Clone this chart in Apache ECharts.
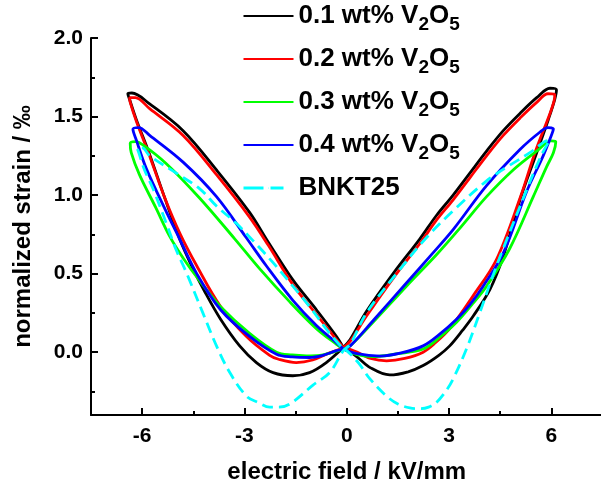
<!DOCTYPE html>
<html>
<head>
<meta charset="utf-8">
<script src="https://cdn.jsdelivr.net/npm/echarts@6/dist/echarts.min.js"></script>
<style>html,body{margin:0;padding:0;background:#fff}#c{width:601px;height:485px}</style>
</head>
<body>
<div id="c"></div>
<script>
// ---- data (electric field kV/mm, normalized strain ‰), each loop in drawing order ----
const seriesNames = ['0.1 wt% V2O5', '0.2 wt% V2O5', '0.3 wt% V2O5', '0.4 wt% V2O5', 'BNKT25'];
const seriesColors = ['#000000', '#ff0000', '#00ff00', '#0000ff', '#00ffff'];

const v01 = [[-0.1,0.03],[0.3,-0.03],[0.7,-0.1],[1.26,-0.145],[1.8,-0.125],[2.24,-0.085],[2.7,-0.02],[3.02,0.04],[3.4,0.14],[3.71,0.23],[4.2,0.4],[4.59,0.61],[5.08,0.97],[5.57,1.27],[5.91,1.48],[6.1,1.61],[6.15,1.67],
  [5.96,1.68],[5.57,1.62],[5.08,1.52],[4.59,1.41],[4.1,1.28],[3.61,1.14],[3.12,1.0],[2.63,0.87],[2.14,0.72],[1.36,0.5],[0.58,0.26],[0.1,0.08],[-0.1,0.03],
  [-0.6,-0.066],[-1.09,-0.13],[-1.58,-0.15],[-2.16,-0.13],[-2.65,-0.066],[-3.14,0.04],[-3.7,0.21],[-4.15,0.38],[-4.55,0.55],[-4.9,0.72],[-5.35,0.99],[-5.8,1.27],[-6.17,1.48],[-6.37,1.61],[-6.42,1.645],
  [-6.3,1.65],[-5.78,1.58],[-4.8,1.41],[-3.82,1.16],[-2.85,0.89],[-2.3,0.7],[-1.58,0.46],[-0.89,0.27],[-0.3,0.1],[-0.1,0.03]];

const v02 = [[-0.1,0.03],[0.3,0.0],[0.7,-0.04],[1.17,-0.055],[1.7,-0.04],[2.24,0.0],[2.6,0.06],[3.02,0.15],[3.71,0.36],[4.39,0.59],[5.08,0.98],[5.52,1.27],[5.96,1.52],[6.08,1.6],[6.1,1.64],
  [5.9,1.645],[5.57,1.59],[5.08,1.49],[4.59,1.38],[4.1,1.25],[3.61,1.11],[3.12,0.97],[2.63,0.84],[2.14,0.69],[1.36,0.47],[0.58,0.23],[0.1,0.07],[-0.1,0.03],
  [-0.6,-0.013],[-1.0,-0.05],[-1.48,-0.066],[-2.0,-0.045],[-2.26,-0.02],[-2.94,0.1],[-3.7,0.29],[-4.4,0.55],[-4.88,0.75],[-5.35,0.99],[-5.8,1.26],[-6.17,1.47],[-6.35,1.59],[-6.37,1.62],
  [-6.2,1.62],[-5.78,1.55],[-4.8,1.38],[-3.82,1.13],[-2.85,0.86],[-2.3,0.68],[-1.58,0.43],[-0.89,0.24],[-0.3,0.08],[-0.1,0.03]];

const v03 = [[-0.1,0.02],[0.3,-0.015],[0.77,-0.028],[1.5,-0.01],[2.24,0.02],[2.7,0.09],[3.22,0.19],[3.7,0.31],[4.1,0.42],[4.78,0.66],[5.47,0.99],[5.86,1.18],[6.06,1.27],[6.13,1.34],
  [6.0,1.345],[5.57,1.28],[4.88,1.16],[4.1,0.99],[3.32,0.79],[2.63,0.62],[1.75,0.42],[0.77,0.19],[0.1,0.04],[-0.1,0.02],
  [-0.4,0.0],[-0.8,-0.02],[-1.18,-0.023],[-1.6,-0.018],[-2.06,0.0],[-2.85,0.12],[-3.7,0.29],[-4.3,0.45],[-4.8,0.6],[-5.2,0.74],[-5.6,0.92],[-6.08,1.13],[-6.32,1.27],[-6.35,1.33],
  [-6.2,1.34],[-5.98,1.32],[-5.29,1.2],[-4.31,0.98],[-3.28,0.72],[-2.55,0.53],[-1.67,0.32],[-0.89,0.15],[-0.3,0.05],[-0.1,0.02]];

const v04 = [[-0.1,0.02],[0.3,-0.01],[0.97,-0.025],[1.6,-0.005],[2.24,0.04],[2.7,0.11],[3.22,0.21],[3.6,0.3],[4.0,0.42],[4.59,0.63],[5.27,1.02],[5.76,1.25],[6.0,1.38],[6.06,1.42],
  [5.9,1.43],[5.66,1.4],[5.08,1.29],[4.1,1.06],[3.12,0.78],[2.44,0.61],[1.75,0.44],[0.77,0.2],[0.1,0.04],[-0.1,0.02],
  [-0.3,0.01],[-0.7,-0.02],[-1.09,-0.034],[-1.6,-0.03],[-2.06,-0.013],[-2.85,0.1],[-3.7,0.27],[-4.4,0.5],[-4.9,0.72],[-5.35,0.92],[-5.88,1.17],[-6.17,1.35],[-6.27,1.42],
  [-6.1,1.43],[-5.78,1.38],[-4.8,1.21],[-3.82,0.99],[-2.95,0.73],[-2.36,0.55],[-1.58,0.33],[-0.89,0.17],[-0.3,0.06],[-0.1,0.02]];

const bnkt25 = [[-0.1,0.02],[0.0,0.01],[0.35,-0.07],[0.68,-0.17],[1.17,-0.28],[1.5,-0.33],[1.85,-0.355],[2.14,-0.36],[2.4,-0.35],[2.63,-0.32],[2.9,-0.25],[3.12,-0.17],[3.51,0.02],[3.9,0.25],[4.29,0.49],[4.59,0.66],[5.27,1.03],[5.7,1.25],[5.95,1.35],
  [5.8,1.34],[5.37,1.27],[4.78,1.19],[4.1,1.09],[3.12,0.9],[2.34,0.73],[1.46,0.5],[0.58,0.25],[0.1,0.05],[-0.1,0.01],
  [-0.5,-0.13],[-0.99,-0.21],[-1.67,-0.33],[-2.0,-0.35],[-2.26,-0.35],[-2.6,-0.32],[-2.94,-0.28],[-3.43,-0.13],[-3.82,0.04],[-4.22,0.25],[-4.71,0.51],[-5.0,0.65],[-5.29,0.82],[-5.68,1.04],[-5.93,1.16],[-6.1,1.27],[-6.15,1.3],
  [-6.0,1.3],[-5.78,1.25],[-5.0,1.14],[-4.31,1.04],[-3.82,0.93],[-3.24,0.82],[-2.75,0.71],[-2.16,0.57],[-1.58,0.42],[-1.09,0.29],[-0.5,0.12],[-0.1,0.02]];

const seriesData = [v01, v02, v03, v04, bnkt25];

// axis ticks / labels
const xMajorTicks = [-6, -3, 0, 3, 6];
const xMinorTicks = [-4.5, -1.5, 1.5, 4.5];
const yMajorTicks = [0, 0.5, 1.0, 1.5, 2.0];
const yMinorTicks = [-0.25, 0.25, 0.75, 1.25, 1.75];
const xTitle = 'electric field / kV/mm';
const yTitle = 'normalized strain / ‰';

// ---- chart ----
const FONT = '"Liberation Sans", Arial, Helvetica, sans-serif';
const chart = echarts.init(document.getElementById('c'), null, {renderer: 'canvas'});
const axisLineStyle = {color: '#000', width: 2};

function subFormatter(name) {
  if (name.endsWith('V2O5')) {
    return '{m|' + name.slice(0, -4) + 'V}{s|2}{m|O}{s|5}';
  }
  return '{m|' + name + '}';
}

const option = {
  animation: false,
  backgroundColor: '#fff',
  grid: {left: 91, top: 38, width: 511.5, height: 377, containLabel: false, outerBoundsMode: 'none'},
  legend: {
    orient: 'vertical',
    left: 242,
    top: 3,
    padding: 0,
    itemWidth: 50,
    itemHeight: 1,
    itemGap: 12,
    selectedMode: false,
    formatter: subFormatter,
    textStyle: {
      color: '#000',
      rich: {
        m: {fontSize: 26, fontWeight: 'bold', fontFamily: FONT, color: '#000', lineHeight: 36},
        s: {fontSize: 19, fontWeight: 'bold', fontFamily: FONT, color: '#000', lineHeight: 16, verticalAlign: 'bottom'}
      }
    },
    data: seriesNames.map((n, i) => ({
      name: n,
      lineStyle: i === 4 ? {width: 3, type: [20, 7, 13, 100]} : {width: 2}
    }))
  },
  xAxis: [
    {
      type: 'value', min: -7.5, max: 7.5,
      name: xTitle, nameLocation: 'middle', nameGap: 45,
      nameTextStyle: {fontSize: 24, fontWeight: 'bold', fontFamily: FONT, color: '#000'},
      axisLine: {show: true, onZero: false, lineStyle: axisLineStyle},
      axisTick: {show: true, inside: true, length: 7, customValues: xMajorTicks, lineStyle: axisLineStyle},
      axisLabel: {show: true, customValues: xMajorTicks, margin: 11, fontSize: 21, fontWeight: 'bold', fontFamily: FONT, color: '#000', formatter: v => String(v)},
      splitLine: {show: false}
    },
    {
      type: 'value', min: -7.5, max: 7.5, position: 'bottom',
      axisLine: {show: false, onZero: false},
      axisTick: {show: true, inside: true, length: 4, customValues: xMinorTicks, lineStyle: axisLineStyle},
      axisLabel: {show: false},
      splitLine: {show: false}
    }
  ],
  yAxis: [
    {
      type: 'value', min: -0.4, max: 2.0,
      name: yTitle, nameLocation: 'middle', nameGap: 56,
      nameTextStyle: {fontSize: 24, fontWeight: 'bold', fontFamily: FONT, color: '#000'},
      axisLine: {show: true, onZero: false, lineStyle: axisLineStyle},
      axisTick: {show: true, inside: true, length: 7, customValues: yMajorTicks, lineStyle: axisLineStyle},
      axisLabel: {show: true, customValues: yMajorTicks, margin: 8, fontSize: 21, fontWeight: 'bold', fontFamily: FONT, color: '#000', formatter: v => v.toFixed(1)},
      splitLine: {show: false}
    },
    {
      type: 'value', min: -0.4, max: 2.0, position: 'left',
      axisLine: {show: false, onZero: false},
      axisTick: {show: true, inside: true, length: 4, customValues: yMinorTicks, lineStyle: axisLineStyle},
      axisLabel: {show: false},
      splitLine: {show: false}
    }
  ],
  series: seriesData.map((d, i) => ({
    name: seriesNames[i],
    type: 'line',
    data: d,
    xAxisIndex: 0,
    yAxisIndex: 0,
    symbol: 'none',
    showSymbol: false,
    smooth: 0.35,
    color: seriesColors[i],
    lineStyle: {color: seriesColors[i], width: 2.8, type: i === 4 ? [11, 6] : 'solid'},
    emphasis: {disabled: true},
    z: 2 + i
  }))
};
chart.setOption(option);
</script>
</body>
</html>
